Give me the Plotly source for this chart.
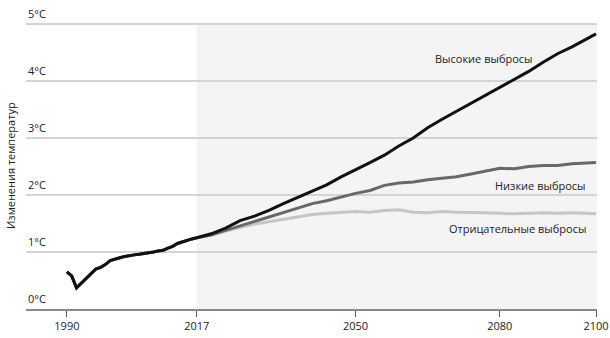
import plotly.graph_objects as go

# ---- data ----
hist_years = [1990, 1991, 1992, 1993, 1994, 1995, 1996, 1997, 1998, 1999, 2000, 2001, 2002,
              2003, 2004, 2005, 2006, 2007, 2008, 2009, 2010, 2011, 2012, 2013, 2014, 2015, 2016]
hist_vals = [0.65, 0.58, 0.37, 0.45, 0.53, 0.62, 0.70, 0.73, 0.78, 0.85, 0.88, 0.90, 0.92,
             0.94, 0.95, 0.96, 0.97, 0.98, 1.00, 1.02, 1.03, 1.07, 1.10, 1.15, 1.18, 1.21, 1.23]

fut_years = [2017, 2020, 2023, 2026, 2029, 2032, 2035, 2038, 2041, 2044, 2047, 2050, 2053, 2056,
             2059, 2062, 2065, 2068, 2071, 2074, 2077, 2080, 2083, 2086, 2089, 2092, 2095, 2098, 2100]
high_vals = [1.25, 1.32, 1.42, 1.55, 1.63, 1.73, 1.85, 1.96, 2.07, 2.18, 2.32, 2.44, 2.57, 2.70,
             2.86, 3.00, 3.18, 3.33, 3.47, 3.61, 3.75, 3.88, 4.02, 4.17, 4.33, 4.48, 4.60, 4.74, 4.83]
low_vals = [1.25, 1.30, 1.38, 1.46, 1.54, 1.62, 1.70, 1.78, 1.85, 1.90, 1.97, 2.03, 2.08, 2.17,
            2.21, 2.23, 2.27, 2.30, 2.32, 2.37, 2.42, 2.47, 2.46, 2.50, 2.52, 2.52, 2.55, 2.56, 2.57]
neg_vals = [1.25, 1.30, 1.37, 1.43, 1.49, 1.53, 1.57, 1.62, 1.66, 1.68, 1.70, 1.71, 1.70, 1.73,
            1.74, 1.70, 1.69, 1.71, 1.70, 1.70, 1.69, 1.68, 1.67, 1.68, 1.69, 1.68, 1.69, 1.68, 1.67]

series_names = ["Отрицательные выбросы", "Низкие выбросы", "Высокие выбросы"]
x_ticks = [1990, 2017, 2050, 2080, 2100]
y_ticks = [0, 1, 2, 3, 4, 5]
y_tick_labels = ["0\u00b0C", "1\u00b0C", "2\u00b0C", "3\u00b0C", "4\u00b0C", "5\u00b0C"]
y_title = "Изменения температур"

FONT = "Open Sans"
TXT = "#222222"
GRID = "#d4d4d4"

fig = go.Figure()

styles = [("#c6c6c6", neg_vals), ("#686868", low_vals), ("#111111", high_vals)]
for name, (col, vals) in zip(series_names, styles):
    fig.add_trace(go.Scatter(
        x=hist_years + fut_years, y=hist_vals + vals, mode="lines", name=name,
        line=dict(color=col, width=3), hoverinfo="skip"))

# shaded projection area (up to the top gridline)
fig.add_shape(type="rect", xref="x", yref="y", x0=2017, x1=2100.2, y0=0, y1=y_ticks[-1],
              fillcolor="#f4f4f4", line=dict(width=0), layer="below")

# y tick labels above gridlines
for v, lab in zip(y_ticks, y_tick_labels):
    fig.add_annotation(x=0, xref="paper", y=v, yref="y", text=lab, showarrow=False,
                       xanchor="left", yanchor="bottom", yshift=1,
                       font=dict(family=FONT, size=11, color=TXT))

# series labels
fig.add_annotation(x=2076.7, y=4.4, text=series_names[2], showarrow=False, xanchor="center",
                   yanchor="middle", font=dict(family=FONT, size=11, color=TXT))
fig.add_annotation(x=2098.3, y=2.17, text=series_names[1], showarrow=False, xanchor="right",
                   yanchor="middle", font=dict(family=FONT, size=11, color=TXT))
fig.add_annotation(x=2098.3, y=1.42, text=series_names[0], showarrow=False, xanchor="right",
                   yanchor="middle", font=dict(family=FONT, size=11, color=TXT))

# y axis title
fig.add_annotation(x=-0.028, xref="paper", y=0.5, yref="paper", text=y_title, textangle=-90,
                   showarrow=False, xanchor="center", yanchor="middle",
                   font=dict(family=FONT, size=11, color=TXT))

fig.update_layout(
    width=610, height=338, margin=dict(l=26, r=13, t=23, b=29, autoexpand=False),
    paper_bgcolor="white", plot_bgcolor="white", showlegend=False,
    font=dict(family=FONT, size=11, color=TXT),
    xaxis=dict(range=[1981.5, 2100.2], tickvals=x_ticks, ticktext=[str(t) for t in x_ticks],
               showgrid=False, zeroline=False, showline=True, linecolor="#8a8a8a", linewidth=1.5,
               ticks="outside", ticklen=6, tickcolor="#555555", tickwidth=1, automargin=False,
               tickfont=dict(family=FONT, size=11, color=TXT)),
    yaxis=dict(range=[0, 5.02], tickvals=y_ticks, showticklabels=False, showgrid=True,
               gridcolor=GRID, gridwidth=2, zeroline=False, ticks="", automargin=False),
)

fig.write_html("out.html")
